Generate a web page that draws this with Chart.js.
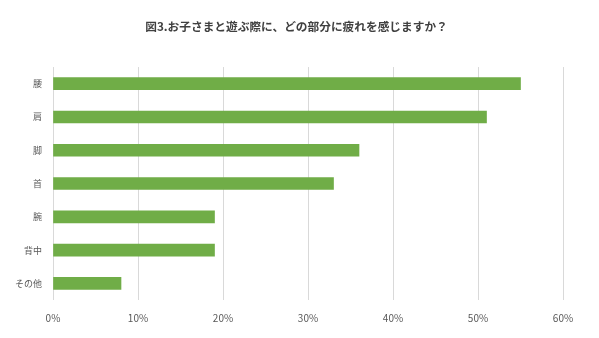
<!DOCTYPE html>
<html>
<head>
<meta charset="utf-8">
<script src="https://cdn.jsdelivr.net/npm/chart.js@4.4.1/dist/chart.umd.min.js"></script>
<style>
  html, body { margin: 0; padding: 0; background: #fff; }
  #wrap { width: 599px; height: 338px; }
</style>
</head>
<body>
<div id="wrap"><canvas id="c"></canvas></div>
<script>
  // 図3 データ（%）
  var categories = ['腰', '肩', '脚', '首', '腕', '背中', 'その他'];
  var values = [55, 51, 36, 33, 19, 19, 8];
  var xTicks = [0, 10, 20, 30, 40, 50, 60];

  var FONT = '"Noto Sans CJK JP", "Noto Sans", sans-serif';

  // タイトルをキャンバス全幅で中央寄せにする
  var centerTitle = {
    id: 'centerTitle',
    afterLayout: function (chart) {
      var t = chart.titleBlock;
      if (t) {
        t.left = 0;
        t.right = chart.width - 6;
        t.width = t.right - t.left;
      }
    }
  };

  new Chart(document.getElementById('c'), {
    type: 'bar',
    data: {
      labels: categories,
      datasets: [
        {
          data: values,
          backgroundColor: '#70ad47',
          barThickness: 12
        }
      ]
    },
    options: {
      indexAxis: 'y',
      responsive: true,
      maintainAspectRatio: false,
      animation: false,
      layout: { padding: { left: 0, right: 36, top: 0, bottom: 0 } },
      plugins: {
        legend: { display: false },
        tooltip: { enabled: false },
        title: {
          display: true,
          text: '図3.お子さまと遊ぶ際に、どの部分に疲れを感じますか？',
          color: '#404040',
          font: { family: FONT, size: 11.7, weight: 'bold' },
          padding: { top: 20, bottom: 33 }
        }
      },
      scales: {
        x: {
          min: 0,
          max: 60,
          afterBuildTicks: function (scale) {
            scale.ticks = xTicks.map(function (v) {
              return { value: v };
            });
          },
          afterFit: function (scale) {
            scale.height = 38;
          },
          grid: { color: '#d9d9d9', lineWidth: 1, drawTicks: false },
          border: { display: false },
          ticks: {
            padding: 12,
            color: '#595959',
            font: { family: FONT, size: 10 },
            callback: function (v) {
              return v + '%';
            }
          }
        },
        y: {
          afterFit: function (scale) {
            scale.width = 53;
          },
          grid: { display: false, drawTicks: false },
          border: { display: false },
          ticks: {
            padding: 11,
            color: '#595959',
            font: { family: FONT, size: 9 }
          }
        }
      }
    },
    plugins: [centerTitle]
  });
</script>
</body>
</html>
